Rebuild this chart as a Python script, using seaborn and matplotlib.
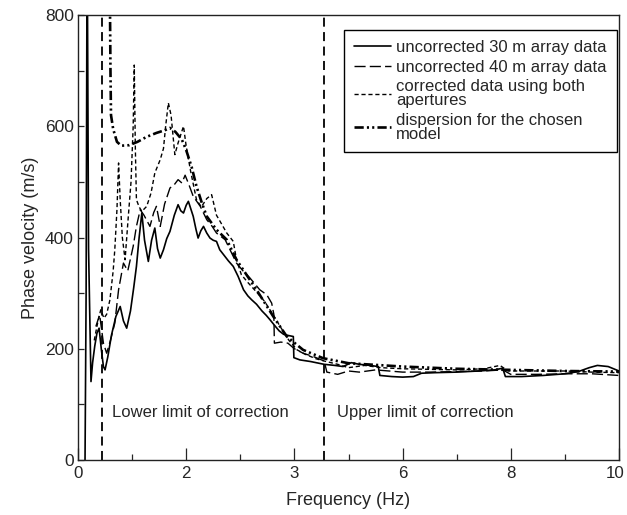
import matplotlib
matplotlib.use("Agg")
import matplotlib.pyplot as plt
import matplotlib.transforms as mtransforms
import seaborn as sns
import pandas as pd

# ---------------- data ----------------
freq_30 = [0.13, 0.15, 0.165, 0.175, 0.195, 0.24, 0.27, 0.31, 0.35, 0.39, 0.43, 0.47, 0.50, 0.55,
           0.62, 0.70, 0.78, 0.84, 0.90, 0.97, 1.03, 1.08, 1.13, 1.18, 1.23, 1.30, 1.36, 1.42,
           1.47, 1.52, 1.58, 1.64, 1.70, 1.78, 1.85, 1.90, 1.95, 2.00, 2.04, 2.09, 2.13, 2.18,
           2.22, 2.27, 2.32, 2.38, 2.44, 2.50, 2.56, 2.62, 2.70, 2.78, 2.87, 2.96, 3.06, 3.14,
           3.21, 3.30, 3.40, 3.48, 3.55, 3.65, 3.72, 3.80, 3.88, 3.98, 3.99, 4.10, 4.30, 4.55,
           4.75, 4.90, 5.05, 5.20, 5.40, 5.55, 5.58, 5.80, 6.00, 6.20, 6.35, 6.60, 7.00, 7.40,
           7.70, 7.85, 7.90, 8.20, 8.60, 9.00, 9.25, 9.45, 9.60, 9.80, 10.0]
vel_30 = [0, 300, 830, 830, 380, 141, 175, 205, 228, 237, 200, 168, 162, 185,
          225, 258, 276, 250, 237, 268, 310, 348, 400, 444, 395, 357, 395, 417,
          380, 363, 378, 398, 411, 440, 459, 448, 444, 458, 465, 450, 438, 415,
          399, 412, 420, 408, 399, 395, 393, 378, 368, 358, 348, 330, 306, 295,
          288, 280, 268, 260, 252, 240, 232, 226, 224, 222, 184, 180, 177, 172,
          170, 168, 175, 172, 170, 168, 152, 150, 149, 150, 156, 157, 158, 160,
          162, 165, 150, 150, 152, 155, 159, 166, 170, 168, 160]

freq_40 = [0.33, 0.40, 0.47, 0.53, 0.60, 0.68, 0.75, 0.84, 0.92, 1.02, 1.08, 1.15, 1.22, 1.33,
           1.40, 1.45, 1.52, 1.60, 1.70, 1.78, 1.85, 1.92, 1.98, 2.05, 2.13, 2.26, 2.38, 2.48,
           2.56, 2.72, 2.85, 2.93, 3.05, 3.18, 3.36, 3.49, 3.58, 3.62, 3.63, 3.75, 3.88, 4.00,
           4.16, 4.35, 4.55, 4.60, 4.80, 5.00, 5.20, 5.50, 6.00, 6.50, 7.00, 7.50, 7.85, 8.00,
           8.50, 9.00, 9.50, 10.0]
vel_40 = [240, 261, 210, 192, 215, 246, 306, 354, 340, 384, 420, 450, 440, 420,
          445, 456, 420, 460, 489, 495, 504, 498, 512, 495, 474, 456, 432, 420,
          408, 396, 370, 354, 340, 327, 306, 297, 282, 262, 210, 212, 210, 200,
          192, 186, 178, 158, 154, 160, 158, 162, 158, 158, 159, 160, 162, 154,
          154, 155, 155, 152]

freq_corr = [0.30, 0.36, 0.42, 0.48, 0.53, 0.59, 0.65, 0.68, 0.72, 0.75, 0.78, 0.82, 0.87, 0.93,
             0.98, 1.02, 1.04, 1.06, 1.08, 1.13, 1.18, 1.27, 1.35, 1.42, 1.52, 1.58, 1.62, 1.67,
             1.72, 1.79, 1.85, 1.95, 2.00, 2.08, 2.19, 2.28, 2.38, 2.47, 2.56, 2.65, 2.75, 2.87,
             2.93, 3.02, 3.15, 3.30, 3.45, 3.60, 3.75, 3.90, 4.05, 4.20, 4.40, 4.55, 4.80, 5.00,
             5.30, 5.60, 6.00, 6.50, 7.00, 7.50, 7.80, 7.95, 8.50, 9.00, 9.50, 10.0]
vel_corr = [215, 245, 270, 255, 262, 288, 340, 378, 450, 534, 468, 400, 360, 438,
            500, 600, 710, 560, 468, 455, 447, 456, 480, 516, 540, 560, 600, 642,
            620, 549, 570, 600, 564, 520, 468, 455, 470, 477, 440, 425, 408, 393,
            360, 333, 318, 302, 285, 262, 238, 215, 198, 190, 182, 178, 172, 166,
            170, 166, 164, 163, 162, 164, 170, 160, 160, 160, 158, 157]

freq_model = [0.59, 0.60, 0.61, 0.65, 0.72, 0.80, 0.95, 1.10, 1.27, 1.45, 1.61, 1.70, 1.80, 1.92,
              2.00, 2.10, 2.19, 2.29, 2.38, 2.56, 2.75, 2.93, 3.30, 3.61, 3.86, 4.16, 4.53, 5.00,
              6.00, 7.00, 8.00, 9.00, 10.0]
vel_model = [830, 700, 620, 595, 572, 565, 566, 572, 581, 588, 593, 597, 590, 576,
             557, 527, 492, 462, 438, 414, 396, 360, 306, 258, 222, 198, 183, 174,
             168, 164, 162, 160, 159]

limit_freqs = [0.44, 4.55]
limit_labels = ["Lower limit of correction", "Upper limit of correction"]
x_tick_pos = [0, 2, 4, 6, 8, 10]
x_tick_labels = ["0", "2", "3", "6", "8", "10"]
y_tick_pos = [0, 200, 400, 600, 800]

series_labels = ["uncorrected 30 m array data", "uncorrected 40 m array data",
                 "corrected data using both\napertures", "dispersion for the chosen\nmodel"]

# ---------------- plot ----------------
sns.set_theme(style="ticks")
plt.rcParams["font.family"] = ["Liberation Sans", "DejaVu Sans"]

fig = plt.figure(figsize=(6.27, 5.15), dpi=100)
ax = fig.add_axes([78 / 627, 1 - 460 / 515, (619 - 78) / 627, (460 - 15) / 515])

def df(f, v):
    return pd.DataFrame({"f": f, "v": v})

sns.lineplot(data=df(freq_30, vel_30), x="f", y="v", ax=ax, color="black", lw=1.2,
             sort=False, estimator=None, label=series_labels[0])
sns.lineplot(data=df(freq_40, vel_40), x="f", y="v", ax=ax, color="black", lw=1.0,
             linestyle=(0, (8, 3)), sort=False, estimator=None, label=series_labels[1])
sns.lineplot(data=df(freq_corr, vel_corr), x="f", y="v", ax=ax, color="black", lw=1.0,
             linestyle=(0, (3, 2)), sort=False, estimator=None, label=series_labels[2])
sns.lineplot(data=df(freq_model, vel_model), x="f", y="v", ax=ax, color="black", lw=1.9,
             linestyle=(0, (3.5, 1.2, 0.8, 1.2, 0.8, 1.2)), sort=False, estimator=None,
             label=series_labels[3])

for fx in limit_freqs:
    ax.axvline(fx, color="black", lw=1.3, linestyle=(0, (5, 3)), zorder=1)

ax.text(0.63, 86, limit_labels[0], fontsize=12, ha="left", va="center")
ax.text(4.79, 86, limit_labels[1], fontsize=12, ha="left", va="center")

ax.set_xlim(0, 10)
ax.set_ylim(0, 800)
ax.set_xticks(x_tick_pos)
ax.set_xticklabels(x_tick_labels)
ax.set_xticks(range(0, 11), minor=True)
ax.set_yticks(y_tick_pos)
ax.set_yticks(range(0, 801, 100), minor=True)
ax.tick_params(axis="x", which="major", direction="in", length=9, width=0.9, labelsize=12.2, pad=4)
ax.tick_params(axis="x", which="minor", direction="in", length=4.5, width=0.9)
ax.tick_params(axis="y", which="both", direction="in", length=4.5, width=0.9, labelsize=12.5, pad=3)
ax.set_xlabel("Frequency (Hz)", fontsize=13, labelpad=8)
ax.set_ylabel("Phase velocity (m/s)", fontsize=13, labelpad=4)
for s in ax.spines.values():
    s.set_visible(True)
    s.set_color("#222222")
    s.set_linewidth(1.0)

# nudge the last x tick label so it stays inside the figure
last = ax.get_xticklabels()[-1]
last.set_transform(last.get_transform() + mtransforms.ScaledTranslation(-4 / 100, 0, fig.dpi_scale_trans))

leg = ax.legend(loc="upper right", bbox_to_anchor=(0.9955, 0.966), fontsize=12,
                frameon=True, fancybox=False, edgecolor="black", framealpha=1,
                handlelength=2.2, handletextpad=0.3, labelspacing=0.28, borderpad=0.6,
                borderaxespad=0.0)
leg.get_frame().set_linewidth(1.0)
for t in leg.get_texts():
    t.set_linespacing(0.9)

fig.savefig("out.png", dpi=100, facecolor="white")
